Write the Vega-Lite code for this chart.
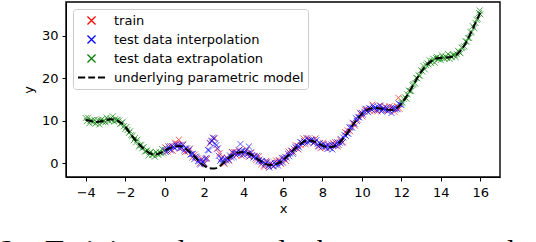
{
  "$schema": "https://vega.github.io/schema/vega-lite/v6.json",
  "width": 434,
  "height": 175,
  "autosize": "none",
  "padding": {"left": 66, "top": 2, "right": 36, "bottom": 65},
  "background": "white",
  "title": {
    "text": "2:\u00a0\u00a0 Training\u00a0\u00a0 data\u00a0\u00a0 and\u00a0\u00a0 the\u00a0\u00a0 two\u00a0\u00a0 test\u00a0\u00a0 datasets",
    "orient": "bottom", "anchor": "start", "frame": "group", "dx": -66, "offset": 21,
    "font": "Liberation Serif", "fontSize": 30, "fontWeight": "normal", "color": "black"
  },
  "config": {
    "view": {"stroke": null},
    "axis": {
      "grid": false, "domainColor": "black", "tickColor": "black", "labelColor": "black", "titleColor": "black",
      "labelFont": "DejaVu Sans", "titleFont": "DejaVu Sans", "labelFontSize": 13, "titleFontSize": 13,
      "titleFontWeight": "normal", "tickSize": 4, "domainWidth": 1, "tickWidth": 1
    },
    "legend": {
      "orient": "top-left", "offset": 7, "padding": 4, "strokeColor": "#cccccc", "fillColor": "white", "cornerRadius": 3,
      "labelFont": "DejaVu Sans", "labelFontSize": 13, "labelColor": "black", "labelLimit": 400,
      "symbolOffset": 7, "labelOffset": 15,
      "symbolSize": 169, "symbolStrokeWidth": 1.3, "symbolOpacity": 1, "rowPadding": 4
    }
  },
  "datasets": {
    "frame": [{"x0": -5, "x1": 17, "y0": -3.3, "y1": 38}],
    "train": [
      {"x":0.03,"y":3.7},{"x":0.15,"y":2.7},{"x":0.28,"y":4.0},{"x":0.4,"y":2.9},{"x":0.53,"y":4.8},{"x":0.65,"y":4.5},{"x":0.72,"y":5.5},{"x":0.78,"y":3.4},{"x":0.9,"y":4.4},
      {"x":1.03,"y":2.6},{"x":1.15,"y":2.8},{"x":1.28,"y":3.4},{"x":1.4,"y":1.3},{"x":1.53,"y":2.0},{"x":1.65,"y":1.1},{"x":1.78,"y":-0.1},{"x":1.9,"y":1.0},
      {"x":2.03,"y":-0.1},{"x":2.15,"y":1.0},{"x":2.28,"y":4.7},{"x":2.4,"y":5.3},{"x":2.53,"y":5.9},{"x":2.65,"y":3.4},{"x":2.78,"y":2.3},{"x":2.9,"y":1.3},
      {"x":3.03,"y":-0.2},{"x":3.15,"y":1.2},{"x":3.28,"y":0.5},{"x":3.4,"y":2.6},{"x":3.53,"y":2.6},{"x":3.65,"y":1.8},{"x":3.78,"y":3.1},{"x":3.9,"y":1.7},
      {"x":4.03,"y":2.3},{"x":4.15,"y":3.2},{"x":4.28,"y":1.5},{"x":4.4,"y":2.4},{"x":4.53,"y":1.7},{"x":4.65,"y":0.7},{"x":4.78,"y":1.6},{"x":4.9,"y":-0.3},
      {"x":5.03,"y":-0.9},{"x":5.15,"y":0.5},{"x":5.28,"y":-0.7},{"x":5.4,"y":0.1},{"x":5.53,"y":-0.7},{"x":5.65,"y":0.6},{"x":5.78,"y":0.7},{"x":5.9,"y":-0.2},
      {"x":6.03,"y":1.2},{"x":6.15,"y":0.5},{"x":6.28,"y":2.7},{"x":6.4,"y":2.9},{"x":6.53,"y":2.5},{"x":6.65,"y":4.2},{"x":6.78,"y":3.2},{"x":6.9,"y":4.2},
      {"x":7.03,"y":5.8},{"x":7.15,"y":4.4},{"x":7.28,"y":5.8},{"x":7.4,"y":5.4},{"x":7.53,"y":4.7},{"x":7.65,"y":5.8},{"x":7.78,"y":4.0},{"x":7.9,"y":3.5},
      {"x":8.03,"y":4.8},{"x":8.15,"y":3.6},{"x":8.28,"y":4.4},{"x":8.4,"y":3.6},{"x":8.53,"y":4.7},{"x":8.65,"y":4.9},{"x":8.78,"y":3.9},{"x":8.9,"y":5.5},
      {"x":9.03,"y":4.9},{"x":9.15,"y":7.3},{"x":9.28,"y":7.7},{"x":9.4,"y":7.5},{"x":9.53,"y":9.5},{"x":9.65,"y":8.8},{"x":9.78,"y":10.2},{"x":9.9,"y":11.9},
      {"x":10.03,"y":11.0},{"x":10.15,"y":12.6},{"x":10.28,"y":12.7},{"x":10.4,"y":12.3},{"x":10.53,"y":13.8},{"x":10.65,"y":12.4},{"x":10.78,"y":12.2},{"x":10.9,"y":13.6},
      {"x":11.03,"y":12.5},{"x":11.15,"y":13.3},{"x":11.28,"y":12.4},{"x":11.4,"y":13.4},{"x":11.53,"y":13.2},{"x":11.65,"y":12.1},{"x":11.78,"y":13.4},{"x":11.85,"y":15.4},{"x":11.9,"y":12.8}
    ],
    "interp": [
      {"x":0,"y":3.1},{"x":0.06,"y":2.6},{"x":0.12,"y":3.3},{"x":0.19,"y":3.9},{"x":0.25,"y":3.3},{"x":0.31,"y":3.0},{"x":0.37,"y":4.0},{"x":0.44,"y":3.8},
      {"x":0.5,"y":3.6},{"x":0.56,"y":4.4},{"x":0.62,"y":3.9},{"x":0.69,"y":4.1},{"x":0.75,"y":3.5},{"x":0.81,"y":4.3},{"x":0.87,"y":3.6},{"x":0.94,"y":4.3},
      {"x":1.0,"y":3.0},{"x":1.06,"y":3.5},{"x":1.12,"y":3.4},{"x":1.19,"y":2.8},{"x":1.25,"y":3.2},{"x":1.31,"y":2.0},{"x":1.37,"y":2.1},{"x":1.44,"y":2.2},
      {"x":1.5,"y":0.9},{"x":1.56,"y":1.5},{"x":1.62,"y":1.4},{"x":1.69,"y":0.5},{"x":1.75,"y":0.4},{"x":1.81,"y":-0.3},{"x":1.87,"y":0.7},{"x":1.94,"y":0.2},
      {"x":2.0,"y":-0.1},{"x":2.06,"y":1.0},{"x":2.12,"y":1.2},{"x":2.19,"y":3.1},{"x":2.25,"y":3.0},{"x":2.31,"y":4.7},{"x":2.37,"y":5.2},{"x":2.44,"y":6.0},
      {"x":2.5,"y":5.8},{"x":2.56,"y":4.6},{"x":2.62,"y":4.2},{"x":2.69,"y":3.4},{"x":2.75,"y":1.7},{"x":2.81,"y":0.5},{"x":2.87,"y":1.0},{"x":2.94,"y":0.5},
      {"x":3.0,"y":0.1},{"x":3.06,"y":1.0},{"x":3.12,"y":0.6},{"x":3.19,"y":1.1},{"x":3.25,"y":0.7},{"x":3.31,"y":1.8},{"x":3.37,"y":1.3},{"x":3.44,"y":2.5},
      {"x":3.5,"y":1.4},{"x":3.56,"y":2.2},{"x":3.62,"y":2.5},{"x":3.69,"y":2.2},{"x":3.75,"y":3.0},{"x":3.81,"y":2.1},{"x":3.84,"y":4.5},{"x":3.87,"y":2.5},{"x":3.94,"y":2.9},
      {"x":4.0,"y":1.9},{"x":4.06,"y":2.7},{"x":4.12,"y":2.9},{"x":4.19,"y":2.1},{"x":4.25,"y":2.3},{"x":4.27,"y":3.9},{"x":4.31,"y":1.6},{"x":4.37,"y":2.5},{"x":4.44,"y":1.9},
      {"x":4.5,"y":1.3},{"x":4.56,"y":1.6},{"x":4.62,"y":1.1},{"x":4.69,"y":1.7},{"x":4.75,"y":0.4},{"x":4.81,"y":0.8},{"x":4.87,"y":0.3},{"x":4.94,"y":0.5},
      {"x":5.0,"y":0.2},{"x":5.06,"y":-0.5},{"x":5.12,"y":-0.1},{"x":5.19,"y":0.3},{"x":5.25,"y":-0.6},{"x":5.31,"y":-1.1},{"x":5.37,"y":-0.1},{"x":5.44,"y":-0.5},
      {"x":5.5,"y":-0.8},{"x":5.56,"y":0.1},{"x":5.62,"y":-0.4},{"x":5.69,"y":0.0},{"x":5.75,"y":-0.6},{"x":5.81,"y":0.5},{"x":5.87,"y":0.0},{"x":5.94,"y":1.2},
      {"x":6.0,"y":0.1},{"x":6.06,"y":1.0},{"x":6.12,"y":1.4},{"x":6.19,"y":1.3},{"x":6.25,"y":2.2},{"x":6.31,"y":1.6},{"x":6.37,"y":2.2},{"x":6.44,"y":2.9},
      {"x":6.5,"y":2.2},{"x":6.56,"y":3.3},{"x":6.62,"y":3.8},{"x":6.69,"y":3.5},{"x":6.75,"y":4.0},{"x":6.81,"y":3.7},{"x":6.87,"y":5.0},{"x":6.94,"y":4.8},
      {"x":7.0,"y":4.6},{"x":7.06,"y":5.2},{"x":7.12,"y":4.9},{"x":7.19,"y":5.9},{"x":7.25,"y":4.9},{"x":7.31,"y":5.4},{"x":7.37,"y":5.2},{"x":7.44,"y":5.5},
      {"x":7.5,"y":5.4},{"x":7.56,"y":4.7},{"x":7.62,"y":5.0},{"x":7.69,"y":5.4},{"x":7.75,"y":4.5},{"x":7.81,"y":3.9},{"x":7.87,"y":4.7},{"x":7.94,"y":4.2},
      {"x":8.0,"y":3.8},{"x":8.06,"y":4.5},{"x":8.12,"y":3.9},{"x":8.19,"y":4.0},{"x":8.25,"y":3.3},{"x":8.31,"y":4.2},{"x":8.37,"y":3.6},{"x":8.44,"y":4.4},
      {"x":8.5,"y":3.2},{"x":8.56,"y":4.0},{"x":8.62,"y":4.3},{"x":8.69,"y":4.1},{"x":8.75,"y":4.9},{"x":8.81,"y":4.3},{"x":8.87,"y":4.8},{"x":8.94,"y":5.6},
      {"x":9.0,"y":4.8},{"x":9.06,"y":6.0},{"x":9.12,"y":6.6},{"x":9.19,"y":6.4},{"x":9.25,"y":7.0},{"x":9.31,"y":6.9},{"x":9.37,"y":8.4},{"x":9.44,"y":8.4},
      {"x":9.5,"y":8.4},{"x":9.56,"y":9.3},{"x":9.62,"y":9.3},{"x":9.69,"y":10.6},{"x":9.75,"y":9.9},{"x":9.81,"y":10.8},{"x":9.87,"y":10.8},{"x":9.94,"y":11.6},
      {"x":10.0,"y":11.8},{"x":10.06,"y":11.4},{"x":10.12,"y":12.1},{"x":10.19,"y":12.8},{"x":10.25,"y":12.3},{"x":10.31,"y":12.0},{"x":10.37,"y":13.0},{"x":10.44,"y":12.8},
      {"x":10.5,"y":12.6},{"x":10.56,"y":13.4},{"x":10.62,"y":12.9},{"x":10.69,"y":13.1},{"x":10.75,"y":12.5},{"x":10.81,"y":13.3},{"x":10.87,"y":12.7},{"x":10.94,"y":13.5},
      {"x":11.0,"y":12.2},{"x":11.06,"y":12.8},{"x":11.12,"y":12.9},{"x":11.19,"y":12.5},{"x":11.25,"y":13.1},{"x":11.31,"y":12.2},{"x":11.37,"y":12.5},{"x":11.44,"y":12.8},
      {"x":11.5,"y":11.8},{"x":11.56,"y":12.8},{"x":11.62,"y":13.1},{"x":11.69,"y":12.6},{"x":11.75,"y":12.9},{"x":11.81,"y":12.7},{"x":11.87,"y":14.0},{"x":11.94,"y":13.8},
      {"x":12.0,"y":13.7}
    ],
    "extrap": [
      {"x":-4,"y":10.6},{"x":-3.94,"y":9.9},{"x":-3.88,"y":10.7},{"x":-3.81,"y":9.4},{"x":-3.75,"y":10.0},{"x":-3.69,"y":10.1},{"x":-3.63,"y":9.6},{"x":-3.56,"y":10.2},
      {"x":-3.5,"y":9.3},{"x":-3.44,"y":9.6},{"x":-3.38,"y":10.1},{"x":-3.31,"y":9.1},{"x":-3.25,"y":10.0},{"x":-3.19,"y":10.3},{"x":-3.13,"y":9.7},{"x":-3.06,"y":10.0},
      {"x":-3.0,"y":9.6},{"x":-2.94,"y":10.7},{"x":-2.88,"y":10.3},{"x":-2.81,"y":9.9},{"x":-2.75,"y":10.5},{"x":-2.69,"y":10.1},{"x":-2.63,"y":11.0},{"x":-2.56,"y":9.8},
      {"x":-2.5,"y":10.4},{"x":-2.44,"y":10.0},{"x":-2.38,"y":10.2},{"x":-2.31,"y":10.0},{"x":-2.25,"y":9.2},{"x":-2.19,"y":9.4},{"x":-2.13,"y":9.7},{"x":-2.06,"y":8.7},
      {"x":-2.0,"y":8.0},{"x":-1.94,"y":8.5},{"x":-1.88,"y":7.8},{"x":-1.81,"y":7.1},{"x":-1.75,"y":7.5},{"x":-1.69,"y":6.6},{"x":-1.63,"y":6.4},{"x":-1.56,"y":5.4},
      {"x":-1.5,"y":5.9},{"x":-1.44,"y":4.9},{"x":-1.38,"y":5.5},{"x":-1.31,"y":3.9},{"x":-1.25,"y":4.3},{"x":-1.19,"y":4.2},{"x":-1.13,"y":3.5},{"x":-1.06,"y":3.8},
      {"x":-1.0,"y":2.7},{"x":-0.94,"y":2.8},{"x":-0.88,"y":3.0},{"x":-0.81,"y":1.8},{"x":-0.75,"y":2.5},{"x":-0.69,"y":2.6},{"x":-0.63,"y":1.9},{"x":-0.56,"y":2.1},
      {"x":-0.5,"y":1.5},{"x":-0.44,"y":2.6},{"x":-0.38,"y":2.2},{"x":-0.31,"y":1.9},{"x":-0.25,"y":2.5},{"x":-0.19,"y":2.3},{"x":-0.13,"y":3.3},{"x":-0.06,"y":2.4},
      {"x":12.0,"y":14.2},{"x":12.06,"y":14.3},{"x":12.12,"y":15.1},{"x":12.19,"y":15.5},{"x":12.25,"y":15.2},{"x":12.31,"y":16.2},{"x":12.37,"y":17.1},{"x":12.44,"y":17.0},
      {"x":12.5,"y":17.0},{"x":12.56,"y":18.4},{"x":12.62,"y":18.6},{"x":12.69,"y":18.8},{"x":12.75,"y":20.1},{"x":12.81,"y":20.0},{"x":12.87,"y":20.7},{"x":12.94,"y":20.6},
      {"x":13.0,"y":21.9},{"x":13.06,"y":21.6},{"x":13.12,"y":22.9},{"x":13.19,"y":22.1},{"x":13.25,"y":23.1},{"x":13.31,"y":23.5},{"x":13.37,"y":23.3},{"x":13.44,"y":24.2},
      {"x":13.5,"y":23.6},{"x":13.56,"y":24.1},{"x":13.62,"y":24.6},{"x":13.69,"y":23.7},{"x":13.75,"y":24.8},{"x":13.81,"y":25.0},{"x":13.87,"y":24.5},{"x":13.94,"y":24.8},
      {"x":14.0,"y":24.3},{"x":14.06,"y":25.4},{"x":14.12,"y":24.9},{"x":14.19,"y":24.6},{"x":14.25,"y":25.1},{"x":14.31,"y":24.8},{"x":14.37,"y":25.7},{"x":14.44,"y":24.6},
      {"x":14.5,"y":25.2},{"x":14.56,"y":25.0},{"x":14.62,"y":25.5},{"x":14.69,"y":25.5},{"x":14.75,"y":25.0},{"x":14.81,"y":25.7},{"x":14.87,"y":26.5},{"x":14.94,"y":26.1},
      {"x":15.0,"y":25.9},{"x":15.06,"y":27.2},{"x":15.12,"y":27.3},{"x":15.19,"y":27.5},{"x":15.25,"y":28.7},{"x":15.31,"y":28.7},{"x":15.37,"y":29.5},{"x":15.44,"y":29.5},
      {"x":15.5,"y":30.9},{"x":15.56,"y":30.9},{"x":15.62,"y":32.3},{"x":15.69,"y":31.8},{"x":15.75,"y":33.1},{"x":15.81,"y":33.8},{"x":15.87,"y":34.0},{"x":15.94,"y":35.4},
      {"x":15.97,"y":36.0},{"x":16.0,"y":35.1}
    ],
    "model": [
      {"x":-4,"y":10.2},{"x":-3.75,"y":9.9},{"x":-3.5,"y":9.7},{"x":-3.25,"y":9.8},{"x":-3,"y":10.1},{"x":-2.75,"y":10.3},{"x":-2.5,"y":10.2},{"x":-2.25,"y":9.6},
      {"x":-2,"y":8.6},{"x":-1.75,"y":7.0},{"x":-1.5,"y":5.5},{"x":-1.25,"y":4.2},{"x":-1,"y":3.1},{"x":-0.75,"y":2.3},{"x":-0.5,"y":2.0},{"x":-0.25,"y":2.3},
      {"x":0,"y":2.9},{"x":0.25,"y":3.5},{"x":0.5,"y":3.9},{"x":0.75,"y":4.0},{"x":1,"y":3.6},{"x":1.25,"y":2.7},{"x":1.5,"y":1.6},{"x":1.75,"y":0.4},
      {"x":2,"y":-0.6},{"x":2.25,"y":-1.2},{"x":2.5,"y":-1.3},{"x":2.75,"y":-0.9},{"x":3,"y":0.1},{"x":3.25,"y":1.2},{"x":3.5,"y":2.0},{"x":3.75,"y":2.5},
      {"x":4,"y":2.6},{"x":4.25,"y":2.3},{"x":4.5,"y":1.6},{"x":4.75,"y":0.8},{"x":5,"y":0.0},{"x":5.25,"y":-0.4},{"x":5.5,"y":-0.5},{"x":5.75,"y":-0.1},
      {"x":6,"y":0.7},{"x":6.25,"y":1.7},{"x":6.5,"y":2.9},{"x":6.75,"y":4.0},{"x":7,"y":4.9},{"x":7.25,"y":5.3},{"x":7.5,"y":5.2},{"x":7.75,"y":4.7},
      {"x":8,"y":4.1},{"x":8.25,"y":3.8},{"x":8.5,"y":3.8},{"x":8.75,"y":4.4},{"x":9,"y":5.5},{"x":9.25,"y":7.0},{"x":9.5,"y":8.7},{"x":9.75,"y":10.3},
      {"x":10,"y":11.6},{"x":10.25,"y":12.5},{"x":10.5,"y":12.9},{"x":10.75,"y":13.0},{"x":11,"y":12.8},{"x":11.25,"y":12.6},{"x":11.5,"y":12.5},{"x":11.75,"y":12.9},
      {"x":12,"y":14.0},{"x":12.25,"y":15.6},{"x":12.5,"y":17.6},{"x":12.75,"y":19.6},{"x":13,"y":21.5},{"x":13.25,"y":23.0},{"x":13.5,"y":24.0},{"x":13.75,"y":24.6},
      {"x":14,"y":24.8},{"x":14.25,"y":24.9},{"x":14.5,"y":25.0},{"x":14.75,"y":25.4},{"x":15,"y":26.5},{"x":15.25,"y":28.2},{"x":15.5,"y":30.5},{"x":15.75,"y":33.0},
      {"x":16,"y":35.5}
    ]
  },
  "encoding": {
    "x": {"field": "x", "type": "quantitative",
      "scale": {"domain": [-5, 17], "nice": false, "zero": false},
      "axis": {"values": [-4,-2,0,2,4,6,8,10,12,14,16], "title": "x", "labelPadding": 5, "titlePadding": 3,
        "labelExpr": "replace(datum.label, '-', '\u2212')"}},
    "y": {"field": "y", "type": "quantitative",
      "scale": {"domain": [-3.3, 38], "nice": false, "zero": false},
      "axis": {"values": [0,10,20,30], "title": "y", "labelPadding": 4, "titlePadding": 6}}
  },
  "layer": [
    {
      "data": {"name": "frame"},
      "mark": {"type": "rect", "fill": "transparent", "stroke": "#000000", "strokeWidth": 1.4, "strokeOpacity": 1},
      "encoding": {
        "x": {"field": "x0", "type": "quantitative"},
        "x2": {"field": "x1"},
        "y": {"field": "y0", "type": "quantitative"},
        "y2": {"field": "y1"}
      }
    },
    {
      "data": {"name": "train"},
      "mark": {"type": "point", "filled": false, "size": 95, "strokeWidth": 1, "opacity": 0.65},
      "encoding": {
        "color": {"datum": "train", "type": "nominal", "legend": {"title": null},
          "scale": {"domain": ["train", "test data interpolation", "test data extrapolation", "underlying parametric model"],
                    "range": ["#ff0000", "#0000ff", "#008000", "#000000"]}},
        "shape": {"datum": "train", "type": "nominal", "legend": {"title": null},
          "scale": {"domain": ["train", "test data interpolation", "test data extrapolation", "underlying parametric model"],
                    "range": ["M-0.62,-0.62L0.62,0.62M-0.62,0.62L0.62,-0.62", "M-0.62,-0.62L0.62,0.62M-0.62,0.62L0.62,-0.62", "M-0.62,-0.62L0.62,0.62M-0.62,0.62L0.62,-0.62",
                              "M-2.08,-0.07L-0.97,-0.07M-0.5,-0.07L0.55,-0.07M1.0,-0.07L2.08,-0.07M-2.08,0.07L-0.97,0.07M-0.5,0.07L0.55,0.07M1.0,0.07L2.08,0.07"]}}
      }
    },
    {
      "data": {"name": "interp"},
      "mark": {"type": "point", "filled": false, "size": 95, "strokeWidth": 1, "opacity": 0.65},
      "encoding": {
        "color": {"datum": "test data interpolation", "type": "nominal"},
        "shape": {"datum": "test data interpolation", "type": "nominal"}
      }
    },
    {
      "data": {"name": "extrap"},
      "mark": {"type": "point", "filled": false, "size": 95, "strokeWidth": 1, "opacity": 0.65},
      "encoding": {
        "color": {"datum": "test data extrapolation", "type": "nominal"},
        "shape": {"datum": "test data extrapolation", "type": "nominal"}
      }
    },
    {
      "data": {"name": "model"},
      "mark": {"type": "line", "color": "black", "strokeWidth": 2, "strokeDash": [7.4, 3.2], "interpolate": "monotone"},
      "encoding": {}
    }
  ]
}
